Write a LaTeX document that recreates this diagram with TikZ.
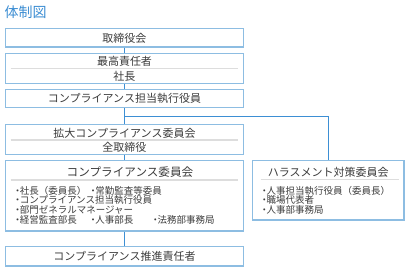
\documentclass[tikz,border=0pt]{standalone}
\usepackage{fontspec}
\setmainfont{Noto Sans CJK JP}
\definecolor{boxblue}{HTML}{8DBDE2}
\definecolor{linkblue}{HTML}{3D8FD4}
\definecolor{titleblue}{HTML}{3A8CD2}
\definecolor{txt}{HTML}{3C3C3C}
\definecolor{sep}{HTML}{DDDDDD}
\newcommand{\bl}{\makebox[4.7pt][c]{・}}
\begin{document}
\begin{tikzpicture}[x=1pt,y=-1pt,
  box/.style={draw=boxblue,line width=1.1pt,fill=white,rectangle,inner sep=0pt},
  link/.style={draw=linkblue,line width=0.9pt},
  sepline/.style={draw=sep,line width=1.2pt},
  lbl/.style={text=txt,font=\fontsize{11}{12}\selectfont,inner sep=0pt},
  item/.style={text=txt,font=\fontsize{9.5}{10}\selectfont,inner sep=0pt,anchor=west}]
\useasboundingbox (0,0) rectangle (408,270);
\node[text=titleblue,font=\fontsize{14}{15}\selectfont,anchor=west,inner sep=0pt] (title) at (4.5,12) {体制図};
% boxes
\node[box,minimum width=238pt,minimum height=18.3pt] (b1) at (124.5,37.85) {};
\node[box,minimum width=238pt,minimum height=30pt] (b2) at (124.5,68.7) {};
\node[box,minimum width=238pt,minimum height=18.4pt] (b3) at (124.5,98.4) {};
\node[box,minimum width=238pt,minimum height=30pt] (b4) at (124.5,139.3) {};
\node[box,minimum width=238pt,minimum height=70.7pt] (b5) at (124.5,195.65) {};
\node[box,minimum width=238pt,minimum height=19.3pt] (b6) at (124.5,256.35) {};
\node[box,minimum width=151.3pt,minimum height=59.7pt] (h) at (328.35,190.15) {};
% separators
\draw[sepline] (10.5,68.7) -- (238,68.7);
\draw[sepline] (10.5,140) -- (238,140);
\draw[sepline] (10.5,180) -- (238,180);
\draw[sepline] (260.5,179.3) -- (399,179.3);
% connectors
\draw[link] (b1.south) -- (b2.north);
\draw[link] (b2.south) -- (b3.north);
\draw[link] (b3.south) -- (b4.north);
\draw[link] (b4.south) -- (b5.north);
\draw[link] (b5.south) -- (b6.north);
\coordinate (br) at (124.5,116.7);
\draw[link] (br) -| (h.north);
% texts
\node[lbl] (t1) at (124.5,38) {取締役会};
\node[lbl] (t2a) at (124.5,61.7) {最高責任者};
\node[lbl] (t2b) at (124.5,76) {社長};
\node[lbl] (t3) at (124.5,98.3) {コンプライアンス担当執行役員};
\node[lbl] (t4a) at (124.5,133.3) {拡大コンプライアンス委員会};
\node[lbl] (t4b) at (124.5,147.7) {全取締役};
\node[lbl,font=\fontsize{11.6}{12}\selectfont] (t5) at (130,171.7) {コンプライアンス委員会};
\node[lbl] (t6) at (124.5,256.3) {コンプライアンス推進責任者};
\node[lbl] (th) at (328.35,172.3) {ハラスメント対策委員会};
% items
\node[item] (i1) at (15,190.7) {\bl 社長（委員長）};
\node[item] (i2) at (90.5,190.7) {\bl 常勤監査等委員};
\node[item] (i3) at (15,200.3) {\bl コンプライアンス担当執行役員};
\node[item] (i4) at (15,210) {\bl 部門ゼネラルマネージャー};
\node[item] (i5) at (15,219.8) {\bl 経営監査部長};
\node[item] (i6) at (90.5,219.8) {\bl 人事部長};
\node[item] (i7) at (152.8,219.8) {\bl 法務部事務局};
\node[item] (h1) at (261.8,190.7) {\bl 人事担当執行役員（委員長）};
\node[item] (h2) at (261.8,200.3) {\bl 職場代表者};
\node[item] (h3) at (261.8,210) {\bl 人事部事務局};
\end{tikzpicture}
\end{document}
